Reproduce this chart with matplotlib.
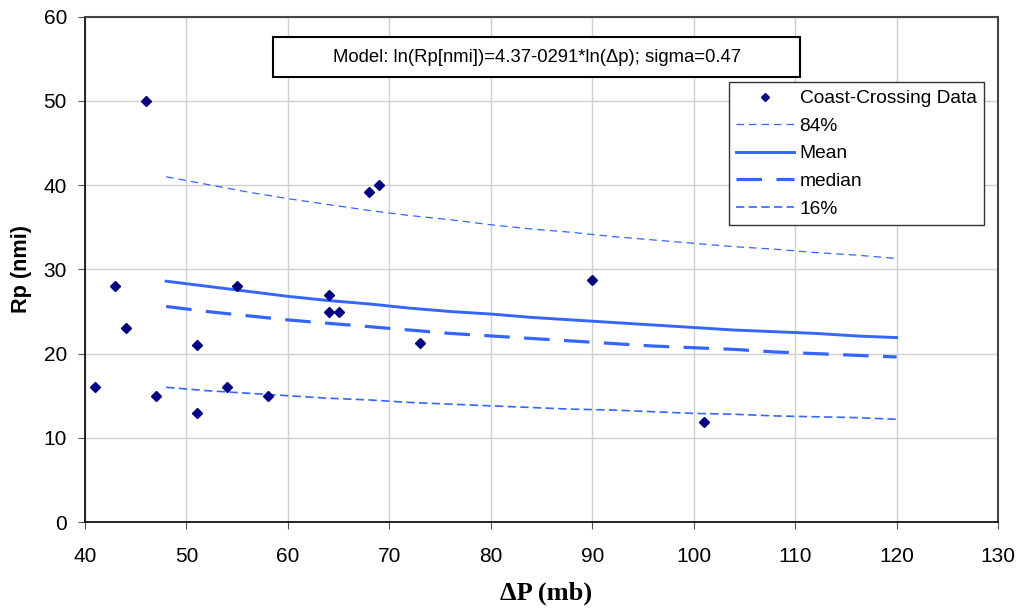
import matplotlib.pyplot as plt
from matplotlib.patches import Rectangle

# coast-crossing observations
dp_obs = [41, 43, 44, 46, 47, 51, 51, 54, 55, 58, 64, 64, 65, 68, 69, 73, 90, 101]
rp_obs = [16, 28, 23, 50, 15, 21, 13, 16, 28, 15, 27, 25, 25, 39.2, 40, 21.3, 28.7, 11.9]

# model curves
dp_model = [48, 52, 56, 60, 64, 68, 72, 76, 80, 84, 88, 92, 96, 100, 104, 108, 112, 116, 120]
rp_84 = [41.0, 40.1, 39.2, 38.4, 37.7, 37.0, 36.4, 35.9, 35.3, 34.8, 34.4, 33.9, 33.5, 33.1, 32.7, 32.4, 32.0, 31.7, 31.3]
rp_mean = [28.6, 28.0, 27.4, 26.8, 26.3, 25.9, 25.4, 25.0, 24.7, 24.3, 24.0, 23.7, 23.4, 23.1, 22.8, 22.6, 22.4, 22.1, 21.9]
rp_median = [25.6, 25.0, 24.5, 24.0, 23.6, 23.2, 22.8, 22.4, 22.1, 21.8, 21.5, 21.2, 20.9, 20.7, 20.5, 20.2, 20.0, 19.8, 19.6]
rp_16 = [16.0, 15.6, 15.3, 15.0, 14.7, 14.5, 14.2, 14.0, 13.8, 13.6, 13.4, 13.3, 13.1, 12.9, 12.8, 12.6, 12.5, 12.4, 12.2]

plt.rcParams['font.family'] = ['Liberation Sans', 'DejaVu Sans']
blue = '#3366ff'

fig = plt.figure(figsize=(10.21, 6.08), dpi=100)
ax = fig.add_axes([0.0833, 0.1414, 0.8942, 0.831])

ax.plot(dp_obs, rp_obs, linestyle='none', marker='D', markersize=5.3,
        color='#000080', label='Coast-Crossing Data', zorder=4)
ax.plot(dp_model, rp_84, color=blue, linewidth=0.9, dashes=(6, 4), label='84%')
ax.plot(dp_model, rp_mean, color=blue, linewidth=2.1, label='Mean')
ax.plot(dp_model, rp_median, color=blue, linewidth=2.3, dashes=(8, 4.5), label='median')
ax.plot(dp_model, rp_16, color=blue, linewidth=1.2, dashes=(5, 2.6), label='16%')

ax.set_xlim(40, 130)
ax.set_ylim(0, 60)
ax.set_xticks(range(40, 131, 10))
ax.set_yticks(range(0, 61, 10))
ax.tick_params(labelsize=15, direction='out', length=5, color='#555555')
ax.tick_params(axis='x', pad=13)
ax.tick_params(axis='y', pad=8)
ax.grid(True, color='#d0d0d0', linewidth=1)
ax.set_axisbelow(True)
for s in ['top', 'right']:
    ax.spines[s].set_color('#454545')
    ax.spines[s].set_linewidth(1.5)
for s in ['left', 'bottom']:
    ax.spines[s].set_color('black')
    ax.spines[s].set_linewidth(1.2)

ax.set_ylabel('Rp (nmi)', fontsize=15.6, fontweight='bold')
ax.yaxis.set_label_coords(-0.058, 0.5)
ax.set_xlabel('ΔP (mb)', fontsize=19, fontweight='bold',
              family=['Liberation Serif', 'DejaVu Serif'])
ax.xaxis.set_label_coords(0.505, -0.118)

# model equation box
ax.add_patch(Rectangle((0.206, 0.8807), 0.577, 0.0793, transform=ax.transAxes,
                       facecolor='white', edgecolor='black', linewidth=1.5, zorder=5))
ax.text(0.4945, 0.919, 'Model: ln(Rp[nmi])=4.37-0291*ln(Δp); sigma=0.47',
        transform=ax.transAxes, ha='center', va='center', fontsize=13.3, zorder=6)

leg = ax.legend(loc='upper right', bbox_to_anchor=(0.9847, 0.8705), fontsize=13.8,
                fancybox=False, framealpha=1, edgecolor='#333333', borderpad=0.4,
                labelspacing=0.53, handlelength=3.0, handletextpad=0.3, borderaxespad=0,
                markerscale=0.75)
leg.get_frame().set_linewidth(1)

fig.savefig('out.png', dpi=100)
